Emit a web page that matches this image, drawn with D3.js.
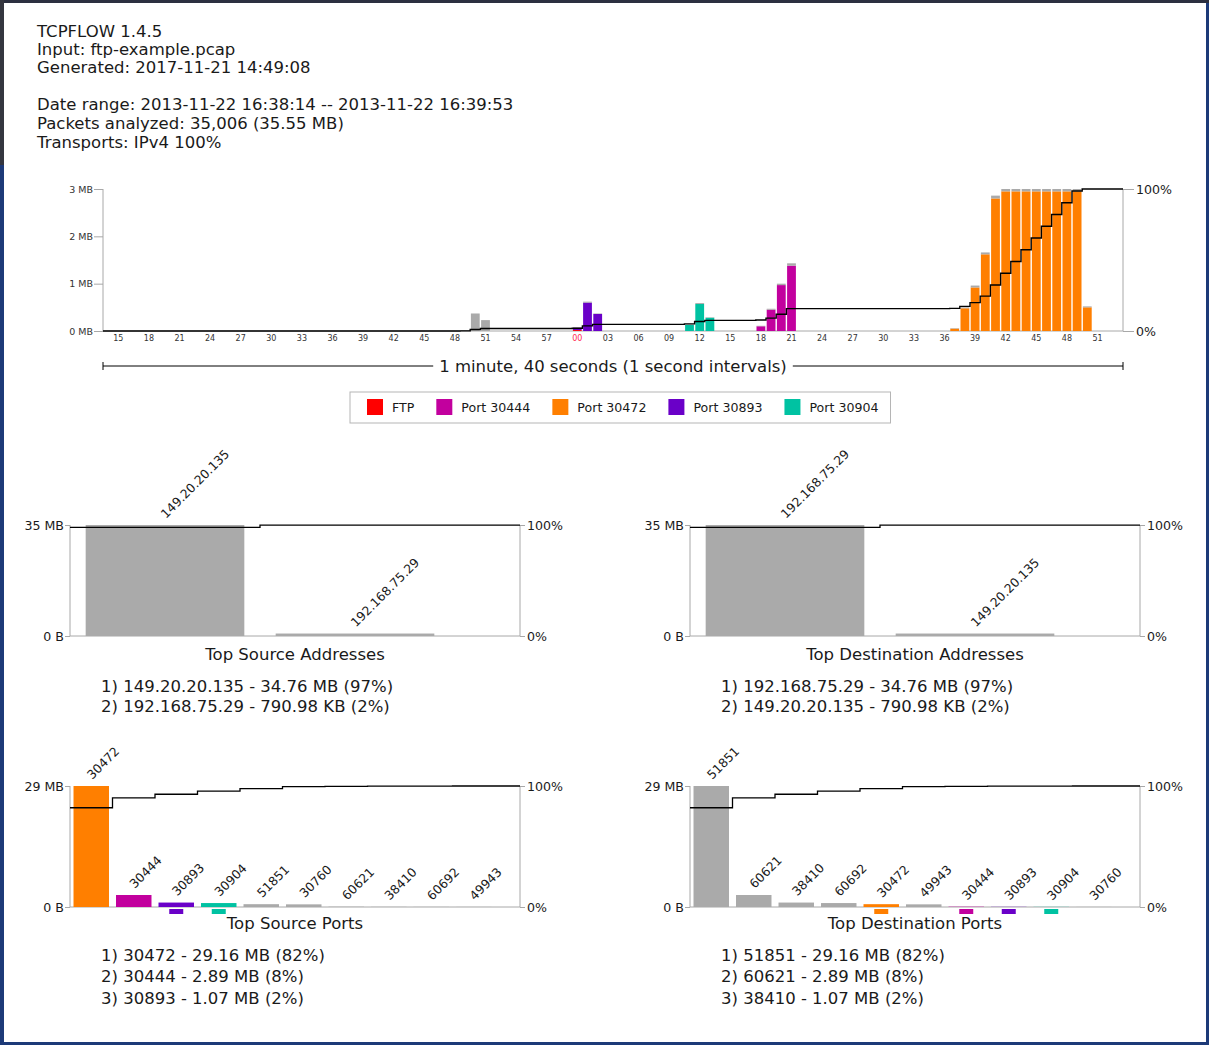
<!DOCTYPE html>
<html>
<head>
<meta charset="utf-8">
<script src="https://cdn.jsdelivr.net/npm/d3@7"></script>
<style>
  html, body { margin: 0; padding: 0; background: #1d3a78; }
  svg { display: block; font-family: "DejaVu Sans", "Verdana", sans-serif; }
</style>
</head>
<body>
<svg id="page" width="1209" height="1045"></svg>
<script>
// ---------- report header ----------
const headerLines = ["TCPFLOW 1.4.5", "Input: ftp-example.pcap", "Generated: 2017-11-21 14:49:08"];
const summaryLines = [
  "Date range: 2013-11-22 16:38:14 -- 2013-11-22 16:39:53",
  "Packets analyzed: 35,006 (35.55 MB)",
  "Transports: IPv4 100%"
];
const totalMB = 35.55;

// ---------- timeline, 1 second bins ----------
const timeStart = "16:38:14";
const timeEnd = "16:39:54";
const timelineCaption = "1 minute, 40 seconds (1 second intervals)";
const timeTicks = [
  "16:38:15","16:38:18","16:38:21","16:38:24","16:38:27","16:38:30","16:38:33","16:38:36",
  "16:38:39","16:38:42","16:38:45","16:38:48","16:38:51","16:38:54","16:38:57","16:39:00",
  "16:39:03","16:39:06","16:39:09","16:39:12","16:39:15","16:39:18","16:39:21","16:39:24",
  "16:39:27","16:39:30","16:39:33","16:39:36","16:39:39","16:39:42","16:39:45","16:39:48","16:39:51"
];
const yTicksMB = [0, 1, 2, 3];

// seconds that carried traffic (all other bins are empty)
const binTimes = [
  "16:38:49","16:38:50","16:38:51",
  "16:39:00","16:39:01","16:39:02",
  "16:39:11","16:39:12","16:39:13",
  "16:39:18","16:39:19","16:39:20","16:39:21",
  "16:39:37","16:39:38","16:39:39","16:39:40","16:39:41",
  "16:39:42","16:39:43","16:39:44","16:39:45","16:39:46","16:39:47","16:39:48","16:39:49",
  "16:39:50"
];
// megabytes per second for each protocol / port
const ftpMB       = [0,0,0, 0.02,0,0, 0,0,0, 0,0,0,0, 0,0,0,0,0, 0,0,0,0,0,0,0,0, 0];
const port30444MB = [0,0,0, 0,0,0, 0,0,0, 0.10,0.45,0.97,1.38, 0,0,0,0,0, 0,0,0,0,0,0,0,0, 0];
const port30472MB = [0,0,0, 0,0,0, 0,0,0, 0,0,0,0, 0.05,0.48,0.92,1.62,2.80,
                     2.95,2.95,2.95,2.95,2.95,2.95,2.95,2.95, 0.50];
const port30893MB = [0,0,0, 0.05,0.60,0.36, 0,0,0, 0,0,0,0, 0,0,0,0,0, 0,0,0,0,0,0,0,0, 0];
const port30904MB = [0,0,0, 0,0,0, 0.13,0.57,0.28, 0,0,0,0, 0,0,0,0,0, 0,0,0,0,0,0,0,0, 0];
const otherMB     = [0.02,0.37,0.23, 0.01,0.02,0.01, 0.01,0.02,0.01, 0.01,0.02,0.03,0.05,
                     0.01,0.02,0.04,0.04,0.06, 0.05,0.05,0.05,0.05,0.05,0.05,0.05,0.05, 0.02];

const seriesNames  = ["FTP", "Port 30444", "Port 30472", "Port 30893", "Port 30904"];
const seriesColors = ["#ff0000", "#c2009e", "#ff7f00", "#6a00c8", "#00c2a2"];
const otherColor = "#aaaaaa";
const portColors = { "30444": "#c2009e", "30472": "#ff7f00", "30893": "#6a00c8", "30904": "#00c2a2" };

// ---------- top talkers ----------
const srcAddrNames = ["149.20.20.135", "192.168.75.29"];
const srcAddrMB    = [34.76, 790.98 / 1024];
const srcAddrPct   = [97, 2];
const dstAddrNames = ["192.168.75.29", "149.20.20.135"];
const dstAddrMB    = [34.76, 790.98 / 1024];
const dstAddrPct   = [97, 2];

const srcPortNames = ["30472","30444","30893","30904","51851","30760","60621","38410","60692","49943"];
const srcPortMB    = [29.16, 2.89, 1.07, 0.95, 0.68, 0.64, 0.07, 0.04, 0.03, 0.02];
const srcPortPct   = [82, 8, 2];
const dstPortNames = ["51851","60621","38410","60692","30472","49943","30444","30893","30904","30760"];
const dstPortMB    = [29.16, 2.89, 1.07, 0.95, 0.68, 0.64, 0.07, 0.04, 0.03, 0.02];
const dstPortPct   = [82, 8, 2];

// ======================================================================
const svg = d3.select("#page");
const W = 1209, H = 1045;
const textColor = "#1a1a1a";
const axisColor = "#a8a8a8";

// page frame
svg.append("rect").attr("width", W).attr("height", H).attr("fill", "#1d3a78");
svg.append("rect").attr("x", 0).attr("y", 0).attr("width", W).attr("height", 3).attr("fill", "#2c3040");
svg.append("rect").attr("x", 0).attr("y", 0).attr("width", 4).attr("height", 165).attr("fill", "#34363f");
svg.append("rect").attr("x", 4).attr("y", 3).attr("width", W - 7).attr("height", H - 6).attr("fill", "#ffffff");

// header text
const headerY = [37, 55, 73];
const summaryY = [110, 129, 148];
svg.append("g").selectAll("text").data(headerLines).join("text")
  .attr("x", 37).attr("y", (d, i) => headerY[i])
  .attr("font-size", 16.5).attr("fill", textColor).text(d => d);
svg.append("g").selectAll("text").data(summaryLines).join("text")
  .attr("x", 37).attr("y", (d, i) => summaryY[i])
  .attr("font-size", 16.5).attr("fill", textColor).text(d => d);

// ---------------- timeline chart ----------------
const parseT = d3.timeParse("%H:%M:%S");
const t0 = parseT(timeStart), t1 = parseT(timeEnd);
const tl = { left: 103, right: 1123, top: 189, bottom: 331 };
const x = d3.scaleTime().domain([t0, t1]).range([tl.left, tl.right]);
const y = d3.scaleLinear().domain([0, 3]).range([tl.bottom, tl.top]);
const yPct = d3.scaleLinear().domain([0, 1]).range([tl.bottom, tl.top]);

const keys = ["ftp", "p30444", "p30472", "p30893", "p30904", "other"];
const keyColors = [...seriesColors, otherColor];
const rows = binTimes.map((t, i) => ({
  t: parseT(t),
  ftp: ftpMB[i], p30444: port30444MB[i], p30472: port30472MB[i],
  p30893: port30893MB[i], p30904: port30904MB[i], other: otherMB[i]
}));
const stacked = d3.stack().keys(keys)(rows);

const tg = svg.append("g");
// axes lines
tg.append("line").attr("x1", tl.left).attr("x2", tl.left).attr("y1", tl.top).attr("y2", tl.bottom)
  .attr("stroke", axisColor);
tg.append("line").attr("x1", tl.right).attr("x2", tl.right).attr("y1", tl.top).attr("y2", tl.bottom)
  .attr("stroke", axisColor);
tg.append("line").attr("x1", tl.left).attr("x2", tl.right).attr("y1", tl.bottom).attr("y2", tl.bottom)
  .attr("stroke", axisColor);

// left axis (MB)
const yAxisL = tg.append("g").attr("transform", `translate(${tl.left},0)`)
  .call(d3.axisLeft(y).tickValues(yTicksMB).tickSize(9).tickPadding(1).tickFormat(d => d + " MB"));
yAxisL.select(".domain").remove();
yAxisL.selectAll(".tick line").attr("stroke", axisColor);
yAxisL.selectAll(".tick text").attr("font-size", 9.5).attr("fill", "#333")
  .attr("font-family", "DejaVu Sans");

// right axis (%)
const yAxisR = tg.append("g").attr("transform", `translate(${tl.right},0)`)
  .call(d3.axisRight(yPct).tickValues([0, 1]).tickSize(11).tickPadding(2).tickFormat(d3.format(".0%")));
yAxisR.select(".domain").remove();
yAxisR.selectAll(".tick line").attr("stroke", axisColor);
yAxisR.selectAll(".tick text").attr("font-size", 12.6).attr("fill", textColor)
  .attr("font-family", "DejaVu Sans");

// bottom tick labels, at the middle of each second
const sec = 1000;
tg.append("g").selectAll("text").data(timeTicks).join("text")
  .attr("x", d => x(new Date(+parseT(d) + sec / 2)))
  .attr("y", tl.bottom + 10)
  .attr("text-anchor", "middle")
  .attr("font-size", 8)
  .attr("fill", d => d.endsWith(":00") ? "#ff2a55" : "#333")
  .text(d => d.slice(-2));

// stacked bars
const barGap = 1.4;
tg.append("g").selectAll("g").data(stacked).join("g")
  .attr("fill", (d, i) => keyColors[i])
  .selectAll("rect").data(d => d.filter(s => s[1] - s[0] > 0)).join("rect")
    .attr("x", d => x(d.data.t) + barGap / 2)
    .attr("width", d => x(new Date(+d.data.t + sec)) - x(d.data.t) - barGap)
    .attr("y", d => y(d[1]))
    .attr("height", d => y(d[0]) - y(d[1]));

// cumulative share line
const binTotals = rows.map(r => keys.reduce((s, k) => s + r[k], 0));
const grand = d3.sum(binTotals);
const cum = d3.cumsum(binTotals).map(v => v / grand);
const cumPts = [[t0, 0], ...rows.map((r, i) => [r.t, cum[i]]), [t1, 1]];
tg.append("path")
  .attr("d", d3.line().x(d => x(d[0])).y(d => yPct(d[1])).curve(d3.curveStepAfter)(cumPts))
  .attr("fill", "none").attr("stroke", "#000").attr("stroke-width", 1.4);

// duration bracket
const brY = 366;
tg.append("line").attr("x1", tl.left).attr("x2", tl.right).attr("y1", brY).attr("y2", brY)
  .attr("stroke", "#000").attr("stroke-width", 1);
tg.append("line").attr("x1", tl.left).attr("x2", tl.left).attr("y1", brY - 4).attr("y2", brY + 4)
  .attr("stroke", "#000");
tg.append("line").attr("x1", tl.right).attr("x2", tl.right).attr("y1", brY - 4).attr("y2", brY + 4)
  .attr("stroke", "#000");
const capBg = tg.append("rect").attr("fill", "#fff");
const capText = tg.append("text").attr("x", (tl.left + tl.right) / 2).attr("y", brY + 6)
  .attr("text-anchor", "middle").attr("font-size", 16.5).attr("fill", textColor).text(timelineCaption);
const cb = capText.node().getBBox();
capBg.attr("x", cb.x - 6).attr("y", brY - 3).attr("width", cb.width + 12).attr("height", 6);

// legend
const lg = svg.append("g");
const lgBox = { x: 350, y: 392, h: 31 };
const lgBoxRect = lg.append("rect").attr("x", lgBox.x).attr("y", lgBox.y).attr("height", lgBox.h)
  .attr("fill", "#fff").attr("stroke", "#b5b5b5");
let cursor = lgBox.x + 17;
let lastEnd = cursor;
seriesNames.forEach((name, i) => {
  lg.append("rect").attr("x", cursor).attr("y", lgBox.y + 7).attr("width", 16).attr("height", 16)
    .attr("fill", seriesColors[i]);
  const t = lg.append("text").attr("x", cursor + 25).attr("y", lgBox.y + 20)
    .attr("font-size", 12.6).attr("fill", textColor).text(name);
  lastEnd = cursor + 25 + t.node().getComputedTextLength();
  cursor = lastEnd + 22;
});
lgBoxRect.attr("width", lastEnd + 12 - lgBox.x);

// ---------------- ranked bar charts ----------------
function fmtSize(mb) {
  return mb >= 1 ? mb.toFixed(2) + " MB" : (mb * 1024).toFixed(2) + " KB";
}

function rankChart(cfg) {
  const { names, values, pcts, title, left, right, top, bottom, step, titleY, listY, colorOf } = cfg;
  const g = svg.append("g");
  const maxV = d3.max(values);
  const yS = d3.scaleLinear().domain([0, maxV]).range([bottom, top]);
  const yP = d3.scaleLinear().domain([0, 1]).range([bottom, top]);
  const xb = d3.scaleBand().domain(names).range([left, left + step * names.length])
    .paddingInner(0.165).paddingOuter(0.0825);

  // axis frame
  g.append("line").attr("x1", left).attr("x2", left).attr("y1", top).attr("y2", bottom).attr("stroke", axisColor);
  g.append("line").attr("x1", right).attr("x2", right).attr("y1", top).attr("y2", bottom).attr("stroke", axisColor);
  g.append("line").attr("x1", left).attr("x2", right).attr("y1", bottom).attr("y2", bottom).attr("stroke", axisColor);

  const aL = g.append("g").attr("transform", `translate(${left},0)`)
    .call(d3.axisLeft(yS).tickValues([0, maxV]).tickSize(5).tickPadding(1)
      .tickFormat(d => d === 0 ? "0 B" : Math.round(d) + " MB"));
  aL.select(".domain").remove();
  aL.selectAll(".tick line").attr("stroke", axisColor);
  aL.selectAll(".tick text").attr("font-size", 12.6).attr("fill", textColor).attr("font-family", "DejaVu Sans");

  const aR = g.append("g").attr("transform", `translate(${right},0)`)
    .call(d3.axisRight(yP).tickValues([0, 1]).tickSize(5).tickPadding(2).tickFormat(d3.format(".0%")));
  aR.select(".domain").remove();
  aR.selectAll(".tick line").attr("stroke", axisColor);
  aR.selectAll(".tick text").attr("font-size", 12.6).attr("fill", textColor).attr("font-family", "DejaVu Sans");

  const data = names.map((n, i) => ({ name: n, v: values[i], color: colorOf(n) }));

  // bars
  g.append("g").selectAll("rect").data(data).join("rect")
    .attr("x", d => xb(d.name)).attr("width", xb.bandwidth())
    .attr("y", d => yS(d.v)).attr("height", d => bottom - yS(d.v))
    .attr("fill", d => d.color);

  // colour keys under short coloured bars
  g.append("g").selectAll("rect")
    .data(data.filter(d => d.color !== otherColor && bottom - yS(d.v) < 6)).join("rect")
    .attr("x", d => xb(d.name) + xb.bandwidth() / 2 - 7).attr("width", 14)
    .attr("y", bottom + 2).attr("height", 5)
    .attr("fill", d => d.color);

  // rotated labels
  g.append("g").selectAll("text").data(data).join("text")
    .attr("transform", d => `translate(${xb(d.name) + xb.bandwidth() / 2 + 1},${yS(d.v) - 6}) rotate(-45)`)
    .attr("font-size", 12.4).attr("fill", textColor).text(d => d.name);

  // cumulative share
  const cumV = d3.cumsum(values).map(v => Math.min(1, v / totalMB));
  const pts = [[left, cumV[0]], ...names.slice(1).map((n, i) => [xb(n) - xb.step() * xb.paddingInner() / 2, cumV[i + 1]]),
               [right, cumV[cumV.length - 1]]];
  g.append("path")
    .attr("d", d3.line().x(d => d[0]).y(d => yP(d[1])).curve(d3.curveStepAfter)(pts))
    .attr("fill", "none").attr("stroke", "#000").attr("stroke-width", 1.3);

  // title and list
  g.append("text").attr("x", (left + right) / 2).attr("y", titleY).attr("text-anchor", "middle")
    .attr("font-size", 16.5).attr("fill", textColor).text(title);
  g.append("g").selectAll("text").data(pcts).join("text")
    .attr("x", left + 31).attr("y", (d, i) => listY[i])
    .attr("font-size", 16.5).attr("fill", textColor)
    .text((p, i) => `${i + 1}) ${names[i]} - ${fmtSize(values[i])} (${p}%)`);
}

const grayOnly = () => otherColor;
const byPort = n => portColors[n] || otherColor;

rankChart({ names: srcAddrNames, values: srcAddrMB, pcts: srcAddrPct, title: "Top Source Addresses",
  left: 70, right: 520, top: 525, bottom: 636, step: 190, titleY: 660, listY: [692, 712], colorOf: grayOnly });
rankChart({ names: dstAddrNames, values: dstAddrMB, pcts: dstAddrPct, title: "Top Destination Addresses",
  left: 690, right: 1140, top: 525, bottom: 636, step: 190, titleY: 660, listY: [692, 712], colorOf: grayOnly });
rankChart({ names: srcPortNames, values: srcPortMB, pcts: srcPortPct, title: "Top Source Ports",
  left: 70, right: 520, top: 786, bottom: 907, step: 42.5, titleY: 929, listY: [961, 982, 1004], colorOf: byPort });
rankChart({ names: dstPortNames, values: dstPortMB, pcts: dstPortPct, title: "Top Destination Ports",
  left: 690, right: 1140, top: 786, bottom: 907, step: 42.5, titleY: 929, listY: [961, 982, 1004], colorOf: byPort });
</script>
</body>
</html>
